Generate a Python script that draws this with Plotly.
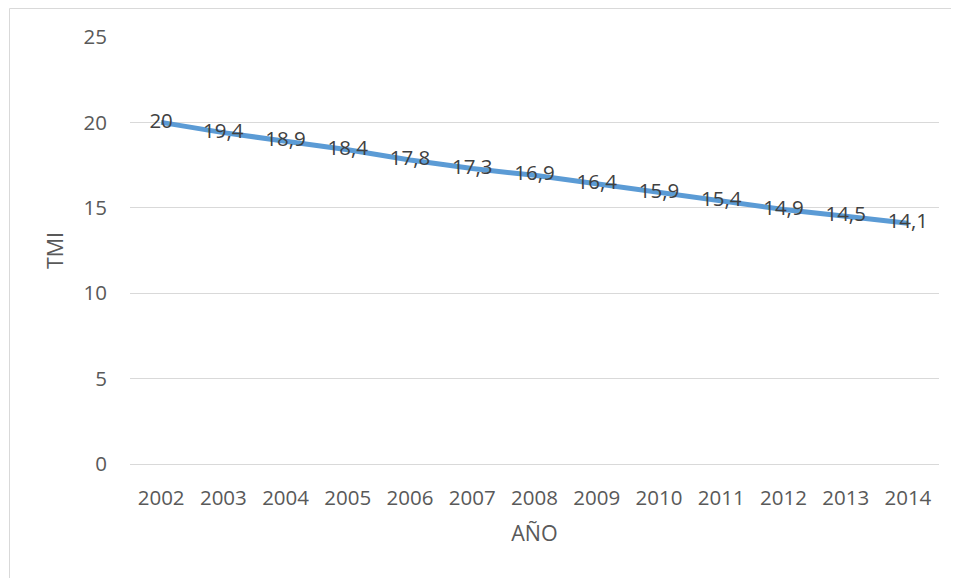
import plotly.graph_objects as go

years = ["2002", "2003", "2004", "2005", "2006", "2007", "2008", "2009", "2010", "2011", "2012", "2013", "2014"]
tmi = [20, 19.4, 18.9, 18.4, 17.8, 17.3, 16.9, 16.4, 15.9, 15.4, 14.9, 14.5, 14.1]
labels = [str(v).replace(".", ",") for v in tmi]

# page has an 8px body margin; figure sized to fill the rest of the window
W, H = 951, 570
ml, mr, mt, mb = 122, 20, 29, 114
pw, ph = W - ml - mr, H - mt - mb

FONT = "Open Sans, Lato, sans-serif"

fig = go.Figure()
fig.add_trace(go.Scatter(
    x=years, y=tmi, mode="lines+text", text=labels,
    textposition="middle center",
    textfont=dict(family=FONT, size=20.5, color="#404040"),
    line=dict(color="#5B9BD5", width=5),
    cliponaxis=False, hoverinfo="skip"
))

def px_x(p):
    return (p - ml) / pw

def px_y(p):
    return 1 - (p - mt) / ph

fig.add_shape(type="rect", xref="paper", yref="paper",
              x0=px_x(1.5), x1=px_x(980), y0=px_y(600), y1=px_y(0.5),
              line=dict(color="#D9D9D9", width=1), fillcolor="rgba(0,0,0,0)")

fig.update_layout(
    width=W, height=H,
    margin=dict(l=ml, r=mr, t=mt, b=mb),
    paper_bgcolor="white", plot_bgcolor="white",
    showlegend=False,
    font=dict(family=FONT, size=20.5, color="#595959"),
    xaxis=dict(type="category", range=[-0.5, 12.5], showgrid=False, zeroline=False,
               showline=False, ticks="", ticklabelstandoff=19,
               title=dict(text="AÑO", font=dict(size=21.5, color="#595959"), standoff=16),
               tickfont=dict(size=20.5, color="#595959")),
    yaxis=dict(range=[0, 25], dtick=5, showgrid=True, gridcolor="#D9D9D9", gridwidth=1.3,
               zeroline=True, zerolinecolor="#D9D9D9", zerolinewidth=1.3,
               showline=False, ticks="", ticklabelstandoff=22,
               title=dict(text="TMI", font=dict(size=21.5, color="#595959"), standoff=14),
               tickfont=dict(size=20.5, color="#595959")),
)

fig.write_html("out.html")
